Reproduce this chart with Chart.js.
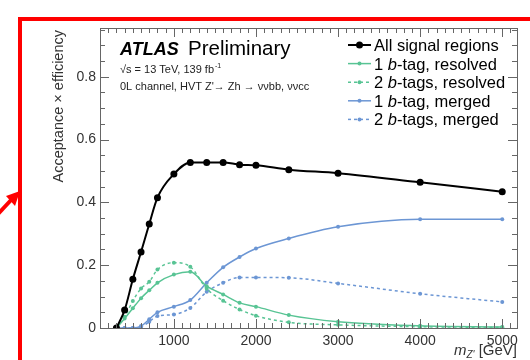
<!DOCTYPE html>
<html>
<head>
<meta charset="UTF-8">
<title>Acceptance x efficiency, HVT Z' -> Zh</title>
<script src="https://cdn.jsdelivr.net/npm/chart.js"></script>
<style>
    html, body { margin: 0; padding: 0; background: #fff; overflow: hidden; }
    #wrap { position: relative; width: 530px; height: 360px; }
    #frame {
        position: absolute; left: 18px; top: 17px;
        width: 600px; height: 400px;
        border: 4px solid #ff0000;
        pointer-events: none;
    }
    #arrow { position: absolute; left: 0; top: 180px; pointer-events: none; }
</style>
</head>
<body>
<div id="wrap">
    <canvas id="chart" width="530" height="360"></canvas>
    <div id="frame"></div>
    <svg id="arrow" width="24" height="40">
        <line x1="-2" y1="34" x2="12" y2="19" stroke="#ff0000" stroke-width="4"/>
        <polygon points="20,11 6,16 15,26" fill="#ff0000"/>
    </svg>
</div>

<script>
    // Z' mass points (GeV)
    const masses = [300, 400, 500, 600, 700, 800, 1000, 1200, 1400, 1600, 1800, 2000, 2400, 3000, 4000, 5000];

    // acceptance x efficiency per region
    const allSignal   = [0, 0.057, 0.155, 0.242, 0.331, 0.415, 0.490, 0.527, 0.527, 0.527, 0.520, 0.518, 0.504, 0.493, 0.464, 0.434];
    const res1btag    = [0, 0.030, 0.063, 0.095, 0.120, 0.144, 0.170, 0.179, 0.133, 0.107, 0.080, 0.068, 0.041, 0.020, 0.007, 0.003];
    const res2btag    = [0, 0.036, 0.086, 0.126, 0.147, 0.186, 0.208, 0.195, 0.125, 0.087, 0.059, 0.039, 0.018, 0.010, 0.004, 0.002];
    const merged1btag = [0, 0, 0, 0.006, 0.028, 0.050, 0.068, 0.089, 0.144, 0.193, 0.226, 0.253, 0.285, 0.322, 0.346, 0.346];
    const merged2btag = [0, 0, 0, 0.003, 0.020, 0.038, 0.043, 0.064, 0.115, 0.144, 0.161, 0.161, 0.160, 0.142, 0.109, 0.083];

    const seriesLabels = ["All signal regions", "1 b-tag, resolved", "2 b-tags, resolved", "1 b-tag, merged", "2 b-tags, merged"];

    const xTickValues = [1000, 2000, 3000, 4000, 5000];
    const yTickValues = [0, 0.2, 0.4, 0.6, 0.8];

    const GREEN = "rgb(88, 196, 148)";
    const BLUE = "rgb(108, 150, 212)";
    const FONT = "'Liberation Sans', Arial, sans-serif";

    function toPoints(values) {
        return masses.map((m, i) => ({ x: m, y: values[i] }));
    }

    function series(label, values, color, dashed, width, radius) {
        return {
            label: label,
            data: toPoints(values),
            borderColor: color,
            backgroundColor: color,
            borderWidth: width,
            borderDash: dashed ? [3, 3] : [],
            pointRadius: radius,
            pointBorderWidth: 0,
            cubicInterpolationMode: "monotone"
        };
    }

    // ticks pointing inwards on all four sides, like the ATLAS style
    const frameTicks = {
        id: "frameTicks",
        afterDraw(chart) {
            const ctx = chart.ctx;
            const a = chart.chartArea;
            const x = chart.scales.x;
            const y = chart.scales.y;
            ctx.save();
            ctx.strokeStyle = "#666";
            ctx.lineWidth = 1;
            ctx.strokeRect(Math.round(a.left) + 0.5, Math.round(a.top) + 0.5,
                           Math.round(a.right - a.left), Math.round(a.bottom - a.top));
            ctx.beginPath();
            for (let i = 0; i * 0.05 <= y.max; i++) {
                const p = Math.round(y.getPixelForValue(i * 0.05)) + 0.5;
                const len = i % 4 === 0 ? 9 : 5;
                ctx.moveTo(a.left, p); ctx.lineTo(a.left + len, p);
                ctx.moveTo(a.right, p); ctx.lineTo(a.right - len, p);
            }
            for (let i = 1; i * 100 <= x.max; i++) {
                const v = i * 100;
                if (v < x.min) continue;
                const p = Math.round(x.getPixelForValue(v)) + 0.5;
                const len = v % 1000 === 0 ? 9 : 5;
                ctx.moveTo(p, a.bottom); ctx.lineTo(p, a.bottom - len);
                ctx.moveTo(p, a.top); ctx.lineTo(p, a.top + len);
            }
            ctx.stroke();
            ctx.restore();
        }
    };

    // draws text pieces, odd pieces italic
    function drawParts(ctx, parts, x, yy, size) {
        parts.forEach((t, k) => {
            ctx.font = (k % 2 ? "italic " : "") + size + "px " + FONT;
            ctx.fillText(t, x, yy);
            x += ctx.measureText(t).width;
        });
    }

    const annotations = {
        id: "annotations",
        afterDraw(chart) {
            const ctx = chart.ctx;
            const a = chart.chartArea;
            ctx.save();
            ctx.fillStyle = "#000";
            ctx.textBaseline = "alphabetic";
            ctx.textAlign = "left";

            ctx.font = "italic bold 18px " + FONT;
            ctx.fillText("ATLAS", 120, 55);
            ctx.font = "20.5px " + FONT;
            ctx.fillText("Preliminary", 188, 55);

            ctx.fillStyle = "#222";
            ctx.font = "11px " + FONT;
            ctx.fillText("\u221As = 13 TeV, 139 fb", 120, 73);
            const w = ctx.measureText("\u221As = 13 TeV, 139 fb").width;
            ctx.font = "7px " + FONT;
            ctx.fillText("-1", 120 + w + 1, 68);
            ctx.font = "11px " + FONT;
            ctx.fillText("0L channel, HVT Z'\u2192 Zh \u2192 \u03BD\u03BDbb, \u03BD\u03BDcc", 120, 90);

            // legend
            ctx.fillStyle = "#000";
            chart.data.datasets.forEach((ds, i) => {
                const cy = 45 + i * 18.6;
                ctx.save();
                ctx.strokeStyle = ds.borderColor;
                ctx.lineWidth = ds.borderWidth;
                ctx.setLineDash(ds.borderDash);
                ctx.beginPath();
                ctx.moveTo(348, cy); ctx.lineTo(371, cy);
                ctx.stroke();
                ctx.fillStyle = ds.borderColor;
                ctx.beginPath();
                ctx.arc(359.5, cy, ds.pointRadius, 0, Math.PI * 2);
                ctx.fill();
                ctx.restore();
                drawParts(ctx, ds.label.split(/\b(b)(?=-tag)/), 374, cy + 6, 16.5);
            });

            // y axis title
            ctx.save();
            ctx.translate(63, a.top + 2);
            ctx.rotate(-Math.PI / 2);
            ctx.textAlign = "right";
            ctx.fillStyle = "#333";
            ctx.font = "14.5px " + FONT;
            ctx.fillText("Acceptance \u00D7 efficiency", 0, 0);
            ctx.restore();

            // x axis title, right aligned
            ctx.fillStyle = "#333";
            ctx.font = "15px " + FONT;
            const rest = " [GeV]";
            const wRest = ctx.measureText(rest).width;
            ctx.font = "italic 10px " + FONT;
            const wSub = ctx.measureText("Z'").width;
            ctx.font = "italic 15px " + FONT;
            const wM = ctx.measureText("m").width;
            let xx = a.right - wRest - wSub - wM;
            ctx.fillText("m", xx, 355);
            ctx.font = "italic 10px " + FONT;
            ctx.fillText("Z'", xx + wM, 358);
            ctx.font = "15px " + FONT;
            ctx.fillText(rest, xx + wM + wSub, 355);
            ctx.restore();
        }
    };

    new Chart(document.getElementById("chart"), {
        type: "line",
        data: {
            datasets: [
                series(seriesLabels[0], allSignal, "#000", false, 2, 3.5),
                series(seriesLabels[1], res1btag, GREEN, false, 1.5, 2),
                series(seriesLabels[2], res2btag, GREEN, true, 1.5, 2),
                series(seriesLabels[3], merged1btag, BLUE, false, 1.5, 2),
                series(seriesLabels[4], merged2btag, BLUE, true, 1.5, 2)
            ]
        },
        options: {
            responsive: false,
            animation: false,
            layout: { padding: { left: 0, top: 28, right: 13, bottom: 0 } },
            plugins: {
                legend: { display: false },
                tooltip: { enabled: false }
            },
            scales: {
                x: {
                    type: "linear",
                    min: 100,
                    max: 5180,
                    grid: { display: false, drawTicks: false },
                    border: { display: false },
                    afterBuildTicks: s => { s.ticks = xTickValues.map(v => ({ value: v })); },
                    afterFit: s => { s.height = 32; },
                    ticks: {
                        padding: 5,
                        color: "#333",
                        maxRotation: 0,
                        font: { family: FONT, size: 14 },
                        callback: v => String(v)
                    }
                },
                y: {
                    min: 0,
                    max: 0.955,
                    grid: { display: false, drawTicks: false },
                    border: { display: false },
                    afterBuildTicks: s => { s.ticks = yTickValues.map(v => ({ value: v })); },
                    afterFit: s => { s.width = 100; },
                    ticks: {
                        padding: 4,
                        color: "#333",
                        font: { family: FONT, size: 14 },
                        callback: v => v === 0 ? "0" : v.toFixed(1)
                    }
                }
            }
        },
        plugins: [frameTicks, annotations]
    });
</script>
</body>
</html>
